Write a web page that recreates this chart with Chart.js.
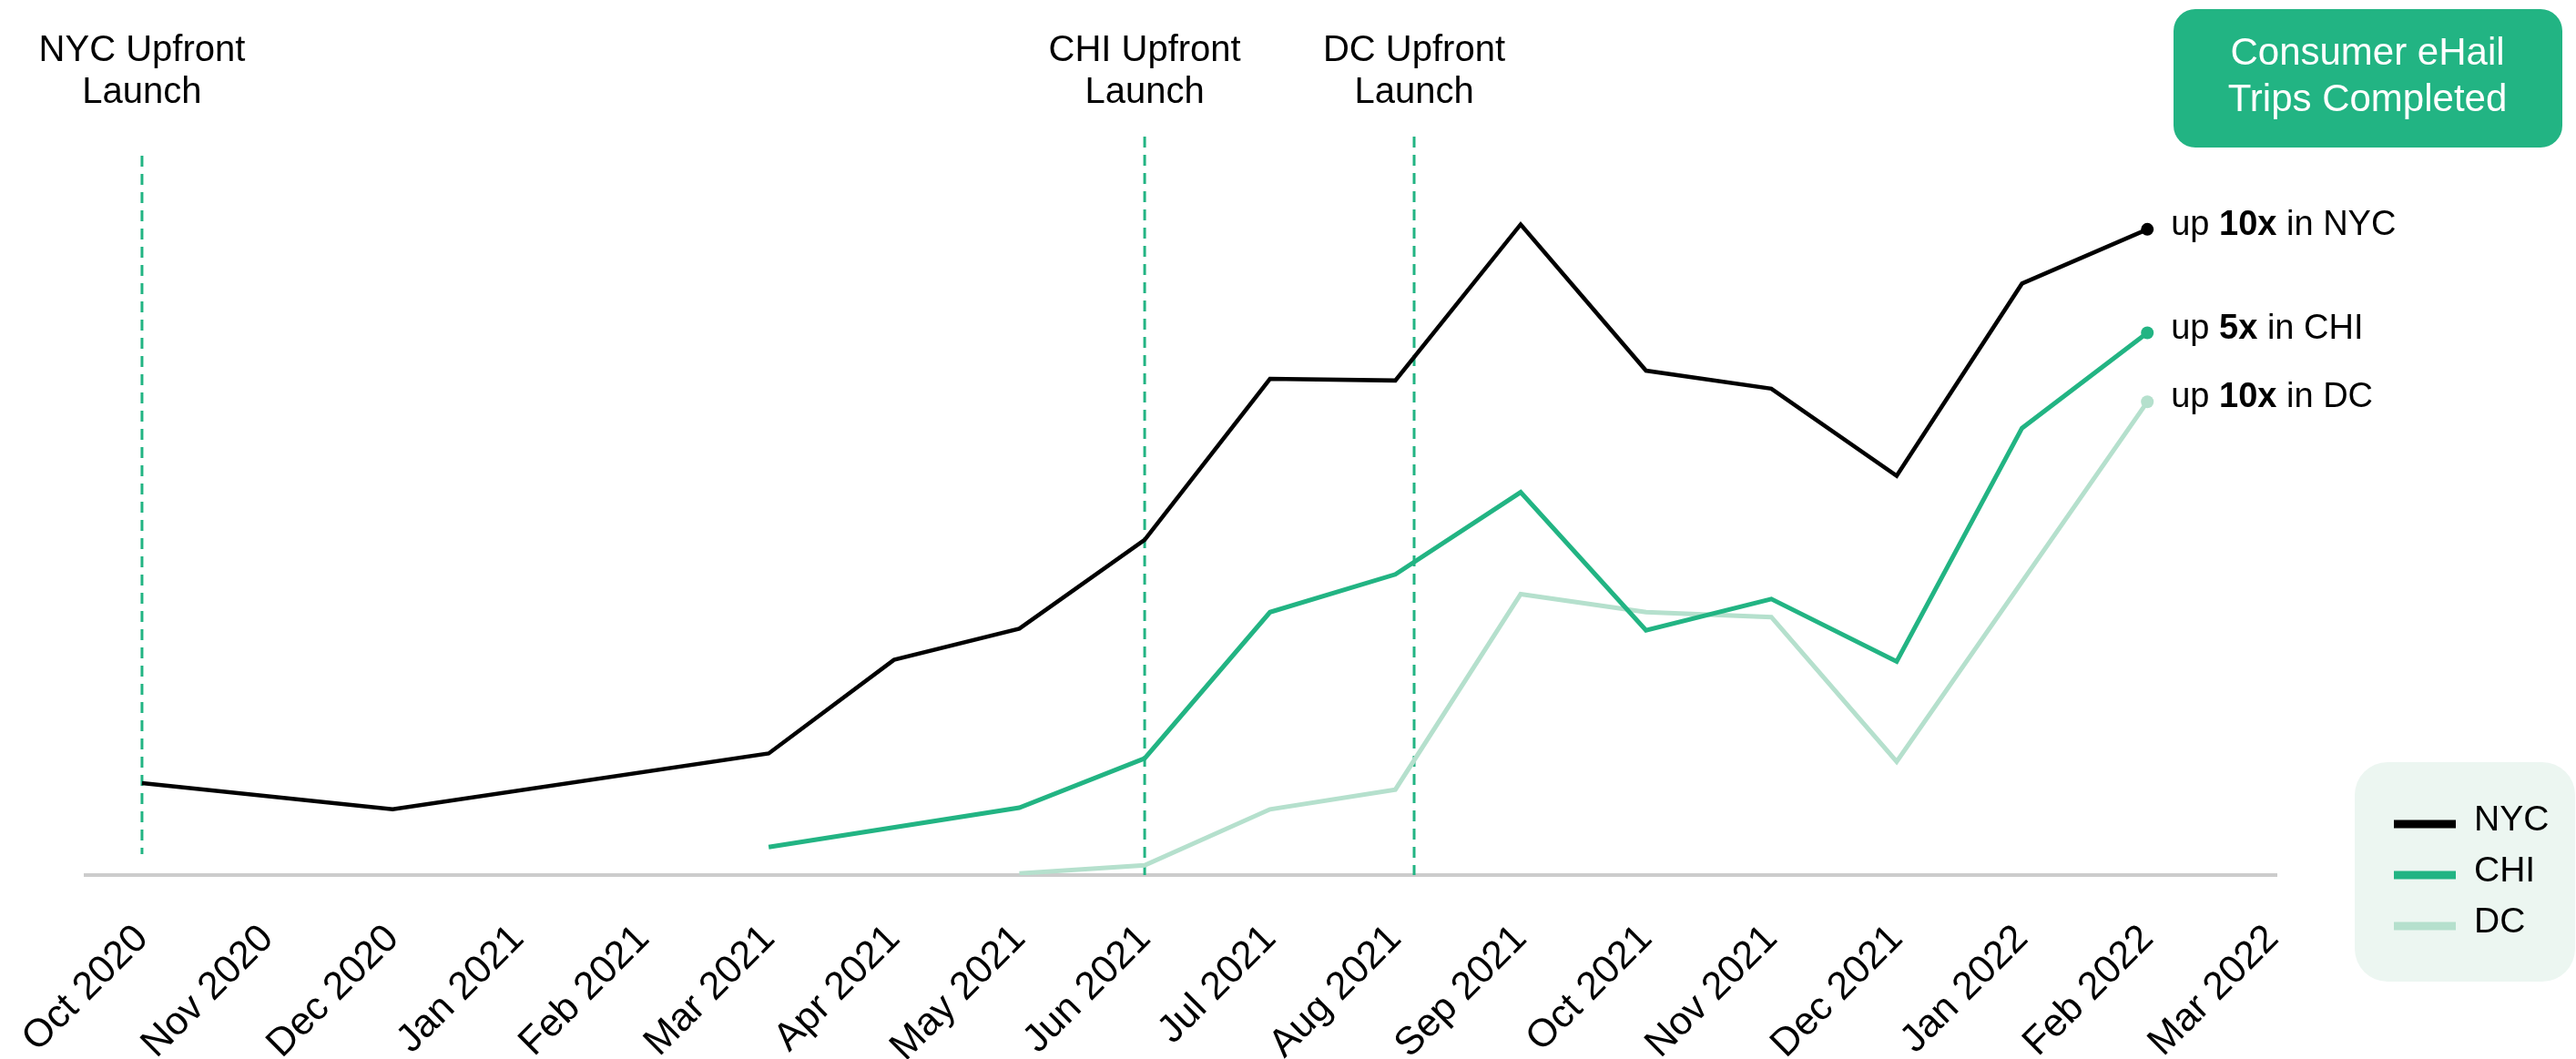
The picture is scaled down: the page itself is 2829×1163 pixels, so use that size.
<!DOCTYPE html>
<html>
<head>
<meta charset="utf-8">
<script src="https://cdn.jsdelivr.net/npm/chart.js@4.4.1/dist/chart.umd.min.js"></script>
<style>
  html, body { margin: 0; padding: 0; background: #fff; }
</style>
</head>
<body>
<canvas id="tripsChart" width="2829" height="1163"></canvas>
<script>
// ===== Data =====
const months = ['Oct 2020','Nov 2020','Dec 2020','Jan 2021','Feb 2021','Mar 2021','Apr 2021','May 2021','Jun 2021',
                'Jul 2021','Aug 2021','Sep 2021','Oct 2021','Nov 2021','Dec 2021','Jan 2022','Feb 2022','Mar 2022'];
// relative trip volume (index)
const nycTrips = [56, null, 40, null, null, 74, 131, 150, 204, 302, 301, 396, 307, 296, 243, 360, 393, null];
const chiTrips = [null, null, null, null, null, 17, null, 41, 71, 160, 183, 233, 149, 168, 130, 272, 330, null];
const dcTrips  = [null, null, null, null, null, null, null, 1, 6, 40, 52, 171, 160, 157, 69, null, 288, null];

const launchCities = ['NYC', 'CHI', 'DC'];
const launchMonth = [0, 8, 10.15];
const growthLabels = [['up ', '10x', ' in NYC'], ['up ', '5x', ' in CHI'], ['up ', '10x', ' in DC']];
const titleLines = ['Consumer eHail', 'Trips Completed'];

const FONT = '"Liberation Sans", Arial, Helvetica, sans-serif';
const GREEN = '#22b483';
const LIGHT = '#b5e0cd';

const lastIndex = arr => arr.reduce((a, v, i) => (v != null ? i : a), -1);

// ===== Annotations / legend plugin =====
const decorations = {
    id: 'decorations',
    beforeDatasetsDraw(chart) {
        const { ctx, scales: { x, y } } = chart;
        ctx.save();
        ctx.strokeStyle = GREEN;
        ctx.lineWidth = 3;
        ctx.setLineDash([12, 8]);
        launchMonth.forEach((m, i) => {
            const px = x.getPixelForValue(m);
            ctx.beginPath();
            ctx.moveTo(px, i === 0 ? 171 : 150);
            ctx.lineTo(px, i === 0 ? 938 : y.getPixelForValue(0));
            ctx.stroke();
        });
        ctx.setLineDash([]);
        ctx.fillStyle = '#000';
        ctx.font = '40px ' + FONT;
        ctx.textAlign = 'center';
        launchMonth.forEach((m, i) => {
            const px = x.getPixelForValue(m);
            ctx.fillText(launchCities[i] + ' Upfront', px, 67);
            ctx.fillText('Launch', px, 113);
        });
        ctx.restore();
    },
    afterDraw(chart) {
        const { ctx } = chart;
        ctx.save();

        // end-of-line growth labels
        ctx.fillStyle = '#000';
        ctx.textAlign = 'left';
        chart.data.datasets.forEach((ds, i) => {
            const pt = chart.getDatasetMeta(i).data[lastIndex(ds.data)];
            let tx = pt.x + 26;
            growthLabels[i].forEach((part, k) => {
                ctx.font = (k === 1 ? 'bold ' : '') + '38px ' + FONT;
                ctx.fillText(part, tx, pt.y + 6);
                tx += ctx.measureText(part).width;
            });
        });

        // title box
        ctx.fillStyle = GREEN;
        ctx.beginPath();
        ctx.roundRect(2387, 10, 427, 152, 24);
        ctx.fill();
        ctx.fillStyle = '#fff';
        ctx.font = '42px ' + FONT;
        ctx.textAlign = 'center';
        ctx.fillText(titleLines[0], 2600, 71);
        ctx.fillText(titleLines[1], 2600, 122);

        // legend
        ctx.fillStyle = '#ecf6f1';
        ctx.beginPath();
        ctx.roundRect(2586, 837, 242, 241, 36);
        ctx.fill();
        ctx.textAlign = 'left';
        ctx.font = '39px ' + FONT;
        chart.data.datasets.forEach((ds, i) => {
            const cy = 905 + i * 56;
            ctx.fillStyle = ds.borderColor;
            ctx.fillRect(2629, cy - 4.5, 68, 9);
            ctx.fillStyle = '#000';
            ctx.fillText(ds.label, 2717, cy + 7);
        });
        ctx.restore();
    }
};

const lineSet = (label, data, color, width) => ({
    label: label,
    data: data,
    borderColor: color,
    backgroundColor: color,
    borderWidth: width,
    spanGaps: true,
    tension: 0,
    pointRadius: c => (c.dataIndex === lastIndex(data) ? 7 : 0),
    pointBorderWidth: 0,
    pointHoverRadius: 0
});

// ===== Trips Chart =====
const tripsCtx = document.getElementById('tripsChart').getContext('2d');
new Chart(tripsCtx, {
    type: 'line',
    data: {
        labels: months.map((m, i) => i),
        datasets: [
            lineSet('NYC', nycTrips, '#000000', 4.5),
            lineSet('CHI', chiTrips, GREEN, 5),
            lineSet('DC', dcTrips, LIGHT, 5)
        ]
    },
    options: {
        responsive: false,
        animation: false,
        layout: { padding: { left: 94, right: 329, top: 149, bottom: 0 } },
        plugins: { legend: { display: false }, tooltip: { enabled: false } },
        scales: {
            x: {
                type: 'linear',
                min: -0.45,
                max: 17.03,
                afterBuildTicks: s => { s.ticks = months.map((m, i) => ({ value: i })); },
                afterFit: s => { s.height = 202; s.paddingLeft = 0; s.paddingRight = 0; },
                grid: { display: false, drawTicks: false },
                border: { display: true, color: '#cccccc', width: 4 },
                ticks: {
                    autoSkip: false,
                    minRotation: 45,
                    maxRotation: 45,
                    padding: 45,
                    color: '#000',
                    font: { family: FONT, size: 43 },
                    callback: v => months[v] ?? ''
                }
            },
            y: { display: false, min: 0, max: 450 }
        }
    },
    plugins: [decorations]
});
</script>
</body>
</html>
